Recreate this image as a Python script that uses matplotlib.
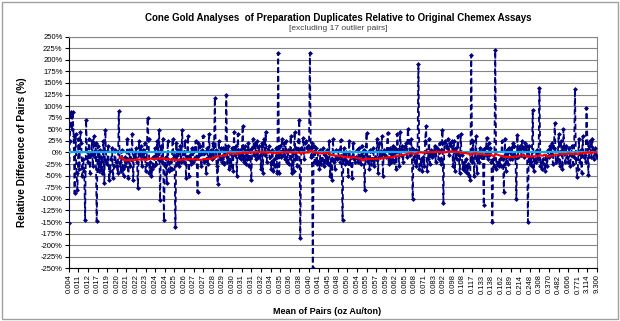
import numpy as np
import pandas as pd
import matplotlib
matplotlib.use('Agg')
import matplotlib.pyplot as plt
from matplotlib.patches import Rectangle

# Diferenca relativa dos pares (%), ordenados pela media do par
dif = [
    -152, 25, 88, 50, 88, 35, -87, 40, -45, -80,
    30, -35, 45, 20, -50, -15, -40, -146, 71, -10,
    -20, 30, -45, -5, 25, -30, 35, -10, 20, -148,
    15, -40, 5, -35, -10, -45, 25, -66, 49, -20,
    -25, 15, -60, -40, -15, 10, -55, -30, 5, -20,
    -30, -45, 89, -20, -40, 5, -35, -50, -10, -30,
    -20, 30, -55, 5, -30, -15, 40, -60, -5, -10,
    10, -20, -77, 25, -5, 15, -30, 5, -10, 20,
    -40, -25, 75, 30, -45, -20, -50, -35, -10, -30,
    10, -25, 25, -15, 49, -102, 15, -20, 30, -146,
    -30, -10, -65, 25, -40, -20, -35, -35, 30, -5,
    -10, -161, 20, -25, 5, -30, 15, -20, 48, -15,
    -20, 25, -55, -10, 35, -50, -5, -25, 10, -20,
    10, -15, 25, -10, -86, 20, -5, 15, -30, 5,
    35, -20, 0, -45, 10, -25, 40, -10, 5, -15,
    20, -10, 117, 5, -30, -67, 25, -15, 10, -20,
    -15, 10, -25, 5, 124, -20, 15, -35, 0, -30,
    10, -40, 45, -5, 15, -50, 40, -10, 5, -15,
    -10, 58, -20, 15, -25, 5, -15, 20, -30, 5,
    -60, 10, 30, -5, 20, -15, 25, -10, 15, -5,
    -35, 20, -45, 30, -5, 45, -20, 5, 15, -10,
    -20, -35, 5, -40, -15, -30, 10, -45, 215, -45,
    15, -10, 30, -5, 20, -15, 25, -20, 5, -25,
    -10, 35, -45, 5, -40, 45, -15, 10, -30, 25,
    71, -185, 10, 5, 32, -15, 20, 25, 10, 15,
    5, 215, -10, 20, -250, 15, -20, 10, -25, 0,
    -20, -35, 5, -25, -15, 10, -30, -5, -20, 5,
    -25, 25, -50, -15, -60, 30, -20, -35, 5, -15,
    -10, 5, -20, 27, -15, -146, 10, -5, -25, 0,
    -20, -50, 25, -25, -10, -55, 20, -15, -20, -10,
    5, -20, 10, -15, -25, 15, -10, 5, -82, 0,
    43, -20, -10, -35, 5, -25, -15, 10, -30, -10,
    -15, 30, -45, 20, -10, -5, 35, -50, 5, -5,
    -10, 5, 43, -25, 10, -20, 5, -15, 15, -20,
    10, -35, 40, 5, -30, 45, -5, 15, -20, 5,
    15, 20, -10, 51, 25, -5, 30, 10, -100, 5,
    -20, 5, -30, -10, 190, -35, -25, -15, -40, -10,
    -30, 25, 57, -40, -15, 30, -25, 5, -10, 0,
    -5, 15, -20, 10, 5, -15, 20, -25, -15, 49,
    -108, 20, 25, 15, 10, 30, -5, 20, 15, 25,
    -30, 25, -40, 10, -15, 35, -5, -45, 40, -5,
    -35, -20, -40, -30, -15, -45, -25, -50, -60, 210,
    -20, 25, -50, -10, 35, -45, -5, -20, 10, -10,
    -10, 5, -113, 10, -5, 32, -15, 20, -5, 10,
    -20, -150, -15, -30, 220, -35, -25, -20, -30, -15,
    -30, 25, -15, -86, 30, -40, 5, -25, 10, -15,
    10, -15, 20, -5, 15, -10, -100, 38, -10, 5,
    15, -5, 25, 10, -10, 20, 5, 15, -150, 15,
    -25, -10, -30, 92, -40, -15, -20, 5, -10, -15,
    140, -30, -20, -35, -15, -25, -40, -10, -30, 5,
    -10, 15, -5, 20, -25, 10, 64, -20, -15, -15,
    40, -30, 25, 5, -35, 50, 10, -20, 15, -10,
    -20, 10, -30, -5, 15, -25, -10, 137, -15, -53,
    -35, 30, -20, 5, -45, 35, -10, -5, -20, 97,
    20, -49, 15, 25, -10, 30, 5, -15, 10, -5, -10,
]

# media dos pares (oz Au/ton) mostrada a cada 10 pares
rotulos = ['0.004', '0.011', '0.012', '0.017', '0.019', '0.020', '0.021', '0.022',
           '0.023', '0.024', '0.024', '0.025', '0.026', '0.027', '0.027', '0.028',
           '0.029', '0.030', '0.031', '0.031', '0.032', '0.034', '0.035', '0.036',
           '0.038', '0.040', '0.041', '0.045', '0.048', '0.050', '0.054', '0.055',
           '0.057', '0.059', '0.062', '0.065', '0.068', '0.071', '0.083', '0.092',
           '0.098', '0.108', '0.117', '0.133', '0.138', '0.162', '0.189', '0.214',
           '0.248', '0.308', '0.370', '0.482', '0.606', '0.771', '3.114', '9.300']
passo = 10
janela = 54

plt.rcParams['font.family'] = ['Liberation Sans Narrow', 'Liberation Sans', 'DejaVu Sans']

x = np.arange(len(dif))
media_movel = pd.Series(dif).rolling(janela).mean()

fig = plt.figure(figsize=(6.2, 3.21), dpi=100)
ax = fig.add_axes([0.111, 0.164, 0.852, 0.722])

# linha tracejada com losangos
ax.plot(x, dif, color='#000080', linestyle=(0, (3, 1.8)), linewidth=1.3,
        marker='D', markersize=2.5, markeredgewidth=0, zorder=3)
ax.axhline(0, color='#00B0F0', linewidth=1.5, zorder=4)
ax.plot(x, media_movel, color='red', linewidth=1.5, zorder=5)

ax.set_ylim(-250, 250)
ax.set_xlim(0, len(dif) - 1)
ax.set_yticks(np.arange(-250, 251, 25))
ax.set_yticklabels(['%d%%' % v for v in np.arange(-250, 251, 25)], fontsize=5.5)
ax.set_xticks(x[::passo])
ax.set_xticklabels(rotulos, rotation=90, fontsize=5.5)
ax.tick_params(axis='both', length=3, width=0.8, pad=1.5, colors='black')
ax.grid(axis='y', color='#868686', linewidth=0.8)
ax.set_axisbelow(True)

for lado in ['top', 'right']:
    ax.spines[lado].set_color('#868686')
    ax.spines[lado].set_linewidth(0.8)
for lado in ['left', 'bottom']:
    ax.spines[lado].set_color('black')
    ax.spines[lado].set_linewidth(0.8)

fig.text(0.545, 0.944, 'Cone Gold Analyses  of Preparation Duplicates Relative to Original Chemex Assays',
         ha='center', va='center', fontsize=7, fontweight='bold')
fig.text(0.545, 0.910, '[excluding 17 outlier pairs]', ha='center', va='center',
         fontsize=6, color='#404040')
fig.text(0.527, 0.031, 'Mean of Pairs (oz Au/ton)', ha='center', va='center',
         fontsize=6.5, fontweight='bold', family=['Liberation Sans', 'DejaVu Sans'])
fig.text(0.035, 0.526, 'Relative Difference of Pairs (%)', ha='center', va='center',
         rotation=90, fontsize=7.3, fontweight='bold', family=['Liberation Sans', 'DejaVu Sans'])

# moldura do grafico
fig.patches.append(Rectangle((0.004, 0.006), 0.992, 0.988, transform=fig.transFigure,
                             fill=False, edgecolor='#a0a0a0', linewidth=1))

fig.savefig('out.png', dpi=100)
